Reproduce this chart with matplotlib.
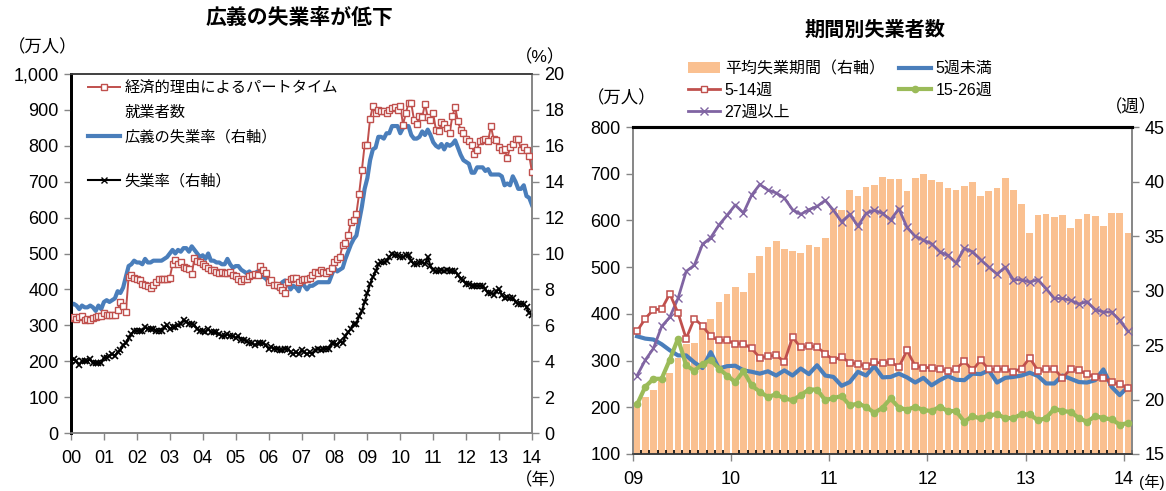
import matplotlib
matplotlib.use("Agg")
import matplotlib.pyplot as plt
from matplotlib.ticker import FuncFormatter, FixedLocator, MultipleLocator
from matplotlib.lines import Line2D
from matplotlib.patches import Patch
import numpy as np

plt.rcParams['font.family'] = ['Liberation Sans', 'Noto Sans CJK JP']
plt.rcParams['axes.unicode_minus'] = False

# ---------------- Left panel: monthly, Jan 2000 - Jan 2014 ----------------
left_year_labels = ['00', '01', '02', '03', '04', '05', '06', '07',
                    '08', '09', '10', '11', '12', '13', '14']

# Involuntary part-time workers (万人)
part_time_econ = [
    319, 322, 318, 324, 325, 316, 318, 315, 320, 322, 325, 327,   # 2000
    333, 329, 329, 330, 329, 343, 366, 354, 338, 435, 440, 432,   # 2001
    430, 426, 415, 412, 410, 405, 412, 422, 428, 430, 430, 430,   # 2002
    432, 470, 482, 470, 475, 463, 460, 458, 443, 487, 478, 475,   # 2003
    472, 465, 460, 455, 454, 448, 445, 448, 446, 445, 449, 440,   # 2004
    437, 430, 424, 428, 430, 437, 440, 442, 440, 466, 454, 446,   # 2005
    421, 426, 412, 412, 406, 398, 389, 421, 430, 432, 433, 421,   # 2006
    425, 428, 430, 433, 440, 449, 445, 455, 449, 447, 452, 460,   # 2007
    477, 486, 491, 524, 528, 551, 588, 593, 611, 667, 732, 802,   # 2008
    802, 876, 910, 890, 901, 898, 896, 890, 901, 905, 908, 900,   # 2009
    910, 859, 890, 920, 918, 872, 861, 882, 880, 917, 880, 871,   # 2010
    890, 844, 840, 865, 862, 850, 837, 883, 908, 868, 844, 837,   # 2011
    819, 814, 802, 778, 789, 814, 816, 818, 812, 855, 820, 815,   # 2012
    797, 789, 792, 765, 796, 805, 819, 818, 789, 796, 789, 772,   # 2013
    726,                                                          # 2014
]

# Broad unemployment rate (%)
broad_rate = [
    7.1, 7.2, 7.1, 6.9, 7.1, 7.0, 7.0, 7.1, 7.0, 6.8, 7.1, 6.9,
    7.3, 7.4, 7.3, 7.4, 7.5, 7.9, 7.8, 8.1, 8.7, 9.3, 9.4, 9.6,
    9.5, 9.5, 9.4, 9.7, 9.5, 9.5, 9.6, 9.6, 9.6, 9.6, 9.7, 9.8,
    10.0, 10.2, 10.0, 10.2, 10.1, 10.3, 10.3, 10.1, 10.4, 10.2, 10.0, 9.8,
    9.9, 9.7, 10.0, 9.6, 9.6, 9.5, 9.5, 9.4, 9.4, 9.7, 9.4, 9.2,
    9.3, 9.3, 9.1, 9.0, 8.9, 9.0, 8.8, 8.9, 9.0, 8.7, 8.7, 8.6,
    8.4, 8.4, 8.2, 8.1, 8.2, 8.4, 8.5, 8.4, 8.0, 8.2, 8.1, 7.9,
    8.4, 8.2, 8.0, 8.2, 8.2, 8.3, 8.4, 8.4, 8.4, 8.4, 8.4, 8.8,
    9.2, 9.0, 9.1, 9.2, 9.7, 10.1, 10.5, 10.8, 11.0, 11.8, 12.6, 13.6,
    14.2, 15.2, 15.8, 15.9, 16.5, 16.5, 16.4, 16.7, 16.7, 17.1, 17.1, 17.1,
    16.7, 17.0, 17.1, 17.1, 16.6, 16.4, 16.4, 16.5, 16.8, 16.6, 16.9, 16.6,
    16.2, 16.0, 15.9, 16.1, 15.8, 16.1, 16.0, 16.1, 16.3, 15.9, 15.5, 15.2,
    15.1, 15.0, 14.5, 14.5, 14.8, 14.8, 14.8, 14.6, 14.7, 14.4, 14.4, 14.4,
    14.4, 14.3, 13.8, 13.9, 13.8, 14.3, 14.0, 13.6, 13.6, 13.8, 13.2, 13.1,
    12.7,
]

# Unemployment rate (%)
unemp_rate = [
    4.0, 4.1, 4.0, 3.8, 4.0, 4.0, 4.0, 4.1, 3.9, 3.9, 3.9, 3.9,
    4.2, 4.2, 4.3, 4.4, 4.3, 4.5, 4.6, 4.9, 5.0, 5.3, 5.5, 5.7,
    5.7, 5.7, 5.7, 5.9, 5.8, 5.8, 5.8, 5.7, 5.7, 5.7, 5.9, 6.0,
    5.8, 5.9, 5.9, 6.0, 6.1, 6.3, 6.2, 6.1, 6.1, 6.0, 5.8, 5.7,
    5.7, 5.6, 5.8, 5.6, 5.6, 5.6, 5.5, 5.4, 5.4, 5.5, 5.4, 5.4,
    5.3, 5.4, 5.2, 5.2, 5.1, 5.0, 5.0, 4.9, 5.0, 5.0, 5.0, 4.9,
    4.7, 4.8, 4.7, 4.7, 4.6, 4.6, 4.7, 4.7, 4.5, 4.4, 4.5, 4.4,
    4.6, 4.5, 4.4, 4.5, 4.4, 4.6, 4.7, 4.6, 4.7, 4.7, 4.7, 5.0,
    5.0, 4.9, 5.1, 5.0, 5.4, 5.6, 5.8, 6.1, 6.1, 6.5, 6.8, 7.3,
    7.8, 8.3, 8.7, 9.0, 9.4, 9.5, 9.5, 9.6, 9.8, 10.0, 9.9, 9.9,
    9.8, 9.8, 9.9, 9.9, 9.6, 9.4, 9.4, 9.5, 9.5, 9.4, 9.8, 9.3,
    9.1, 9.0, 9.0, 9.1, 9.0, 9.1, 9.0, 9.0, 9.0, 8.8, 8.6, 8.5,
    8.3, 8.3, 8.2, 8.2, 8.2, 8.2, 8.2, 8.0, 7.8, 7.8, 7.7, 7.9,
    8.0, 7.7, 7.5, 7.6, 7.5, 7.5, 7.3, 7.2, 7.2, 7.2, 7.0, 6.7,
    6.6,
]

# ---------------- Right panel: monthly, Jan 2009 - Jan 2014 ----------------
right_year_labels = ['09', '10', '11', '12', '13', '14']

# Average duration of unemployment (weeks)
avg_duration_weeks = [
    19.5, 20.2, 20.9, 21.7, 22.4, 23.8, 25.1, 25.2, 26.7, 27.4, 28.9, 29.7,
    30.3, 29.9, 31.6, 33.2, 34.0, 34.5, 33.8, 33.6, 33.4, 34.2, 34.0, 34.8,
    37.5, 37.4, 39.2, 38.7, 39.5, 39.7, 40.4, 40.2, 40.2, 39.1, 40.3, 40.7,
    40.1, 40.0, 39.4, 39.2, 39.6, 40.0, 38.7, 39.1, 39.4, 40.3, 39.2, 37.9,
    35.3, 36.9, 37.0, 36.7, 36.9, 35.7, 36.6, 37.0, 36.8, 35.9, 37.1, 37.1,
    35.3,
]
# Unemployed by duration (万人)
under_5_weeks = [
    352, 347, 345, 335, 322, 311, 311, 296, 284, 318, 283, 288,
    289, 279, 276, 272, 277, 268, 279, 268, 283, 271, 290, 268,
    265, 246, 254, 276, 268, 288, 264, 265, 272, 264, 253, 263,
    247, 258, 267, 259, 258, 272, 271, 279, 253, 263, 265, 268,
    274, 267, 251, 251, 268, 261, 254, 253, 258, 281, 244, 226,
    244,
]
weeks_5_14 = [
    363, 390, 409, 410, 443, 402, 347, 390, 374, 352, 343, 343,
    336, 336, 326, 306, 309, 312, 297, 350, 328, 331, 329, 315,
    301, 308, 295, 293, 288, 296, 295, 297, 286, 322, 288, 285,
    285, 282, 277, 282, 299, 279, 301, 281, 281, 282, 276, 283,
    306, 278, 282, 282, 263, 282, 279, 271, 265, 262, 254, 249,
    241,
]
weeks_15_26 = [
    206, 244, 261, 261, 302, 347, 290, 278, 293, 301, 283, 268,
    254, 278, 247, 233, 222, 228, 219, 215, 226, 238, 238, 215,
    220, 224, 204, 208, 201, 188, 199, 219, 199, 195, 201, 194,
    192, 201, 192, 192, 169, 181, 176, 183, 185, 177, 177, 185,
    185, 172, 177, 197, 192, 190, 177, 169, 181, 177, 174, 163,
    166,
]
weeks_27_plus = [
    268, 301, 326, 373, 393, 433, 491, 504, 549, 563, 590, 611,
    633, 616, 654, 677, 665, 659, 648, 623, 613, 623, 630, 643,
    622, 597, 613, 588, 615, 622, 615, 601, 625, 585, 566, 558,
    550, 533, 525, 509, 540, 533, 516, 500, 485, 500, 473, 473,
    468, 473, 454, 433, 433, 429, 421, 426, 409, 404, 404, 386,
    363,
]

RED = '#C0504D'
BLUE = '#4A7EBB'
GREEN = '#9BBB59'
PURPLE = '#8064A2'
ORANGE = '#FAC090'
GREY = '#868686'

W, H = 1166, 491
fig = plt.figure(figsize=(W / 100, H / 100), dpi=100)


def frac_box(x0, y0, x1, y1):
    return [x0 / W, 1 - y1 / H, (x1 - x0) / W, (y1 - y0) / H]


def style_spines(ax, colors, widths):
    for side in ('left', 'right', 'top', 'bottom'):
        ax.spines[side].set_color(colors[side])
        ax.spines[side].set_linewidth(widths[side])


TICK_FS = 13

# ================= Left panel =================
axL = fig.add_axes(frac_box(71, 74, 532, 433))
axLr = axL.twinx()
xl = np.arange(len(part_time_econ))

axLr.plot(xl, broad_rate, color=BLUE, lw=3.0, zorder=3)
axLr.plot(xl, unemp_rate, color='black', lw=1.5, marker='x', ms=5,
          mew=1.2, zorder=3)
axL.plot(xl, part_time_econ, color=RED, lw=1.4, marker='s', ms=5,
         mfc='white', mec=RED, mew=1.0, zorder=4)
axL.set_zorder(axLr.get_zorder() + 1)
axL.patch.set_visible(False)

axL.set_xlim(0, len(part_time_econ) - 1)
axL.set_ylim(0, 1000)
axLr.set_ylim(0, 20)
axL.yaxis.set_major_locator(MultipleLocator(100))
axL.yaxis.set_major_formatter(FuncFormatter(lambda v, p: f'{int(v):,}'))
axLr.yaxis.set_major_locator(MultipleLocator(2))
axL.set_xticks(np.arange(0, len(part_time_econ), 12))
axL.set_xticklabels(left_year_labels)
for a in (axL, axLr):
    a.tick_params(axis='both', labelsize=TICK_FS, direction='out', length=5,
                  width=1, color=GREY, pad=4)
axL.tick_params(axis='x', pad=7)
for a in (axL, axLr):
    style_spines(a, {'left': 'black', 'right': GREY, 'top': '#404040', 'bottom': GREY},
                 {'left': 2.0, 'right': 1.2, 'top': 1.2, 'bottom': 1.2})

legend_kw = dict(frameon=False, fontsize=11, borderpad=0, borderaxespad=0,
                 handlelength=2.1, handletextpad=0.3, labelspacing=0.68,
                 loc='upper left')
legL = axL.legend(
    [Line2D([], [], color=RED, lw=1.4, marker='s', ms=5, mfc='white', mec=RED),
     Line2D([], [], color='none'),
     Line2D([], [], color=BLUE, lw=3.0)],
    ['経済的理由によるパートタイム', '就業者数', '広義の失業率（右軸）'],
    bbox_to_anchor=((88 - 71) / 461, (433 - 81) / 359), **legend_kw)
axL.add_artist(legL)
axL.legend([Line2D([], [], color='black', lw=1.5, marker='x', ms=5)],
           ['失業率（右軸）'],
           bbox_to_anchor=((88 - 71) / 461, (433 - 174) / 359), **legend_kw)

fig.text(299 / W, 1 - 18 / H, '広義の失業率が低下', ha='center', va='center',
         fontsize=15, fontweight='bold')
fig.text(43 / W, 1 - 47 / H, '（万人）', ha='center', va='center', fontsize=12.5)
fig.text(540 / W, 1 - 57 / H, '（%）', ha='center', va='center', fontsize=12.5)
fig.text(541 / W, 1 - 480 / H, '（年）', ha='center', va='center', fontsize=12.5)

# ================= Right panel =================
axR = fig.add_axes(frac_box(633, 127, 1132, 454))
axRr = axR.twinx()
xr = np.arange(len(avg_duration_weeks))

axRr.bar(xr, avg_duration_weeks, width=0.82, color=ORANGE, zorder=1)
axR.set_zorder(axRr.get_zorder() + 1)
axR.patch.set_visible(False)

axR.plot(xr, under_5_weeks, color=BLUE, lw=3.0, zorder=3)
axR.plot(xr, weeks_5_14, color=RED, lw=2.0, marker='s', ms=5,
         mfc='white', mec=RED, mew=1.1, zorder=4)
axR.plot(xr, weeks_15_26, color=GREEN, lw=3.0, marker='o', ms=4.5,
         mec=GREEN, zorder=3)
axR.plot(xr, weeks_27_plus, color=PURPLE, lw=2.0, marker='x', ms=6,
         mew=1.0, zorder=3)

axR.set_xlim(-0.5, len(avg_duration_weeks) - 0.5)
axR.set_ylim(100, 800)
axRr.set_ylim(15, 45)
axR.yaxis.set_major_locator(MultipleLocator(100))
axRr.yaxis.set_major_locator(MultipleLocator(5))
axR.xaxis.set_major_locator(FixedLocator(np.arange(-0.5, len(avg_duration_weeks), 12)))
axR.set_xticklabels(right_year_labels)
axR.xaxis.set_minor_locator(FixedLocator(np.arange(-0.5, len(avg_duration_weeks), 1)))
for a in (axR, axRr):
    a.tick_params(axis='both', labelsize=TICK_FS, direction='out', length=5,
                  width=1, color=GREY, pad=4)
axR.tick_params(axis='x', which='major', pad=7)
axR.tick_params(axis='x', which='minor', direction='in', length=3, width=1.2,
                color='black')
for a in (axR, axRr):
    style_spines(a, {'left': GREY, 'right': GREY, 'top': 'black', 'bottom': '#404040'},
                 {'left': 1.2, 'right': 1.2, 'top': 2.2, 'bottom': 1.2})

right_handles = [
    Patch(facecolor=ORANGE, edgecolor='none'),
    Line2D([], [], color=RED, lw=2.0, marker='s', ms=5, mfc='white', mec=RED),
    Line2D([], [], color=PURPLE, lw=2.0, marker='x', ms=6),
    Line2D([], [], color=BLUE, lw=3.0),
    Line2D([], [], color=GREEN, lw=3.0, marker='o', ms=4.5),
]
right_labels = ['平均失業期間（右軸）', '5-14週', '27週以上', '5週未満', '15-26週']
fig.legend(right_handles, right_labels, loc='upper left',
           bbox_to_anchor=(688 / W, 1 - 61 / H), ncol=2,
           frameon=False, fontsize=11.5, borderpad=0, borderaxespad=0,
           handlelength=2.0, handletextpad=0.3, labelspacing=0.42,
           columnspacing=0.9)

fig.text(875 / W, 1 - 30 / H, '期間別失業者数', ha='center', va='center',
         fontsize=14.5, fontweight='bold')
fig.text(622 / W, 1 - 98 / H, '（万人）', ha='center', va='center', fontsize=12.5)
fig.text(1131 / W, 1 - 107 / H, '（週）', ha='center', va='center', fontsize=12.5)
fig.text(1165 / W, 1 - 482 / H, '(年)', ha='right', va='center', fontsize=11)

fig.savefig('out.png', dpi=100)
